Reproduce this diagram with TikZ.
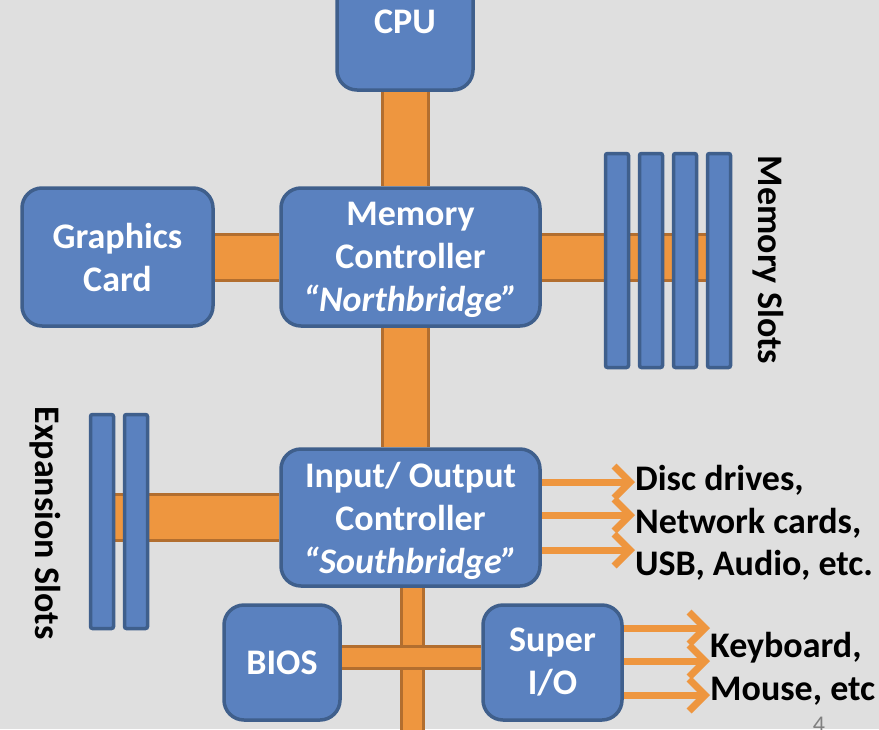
\documentclass[tikz,border=0pt]{standalone}
\usepackage{fontspec}
\setmainfont{Carlito}
\usetikzlibrary{arrows.meta,positioning}
\definecolor{bgcol}{HTML}{DFDFDF}
\definecolor{boxfill}{HTML}{5A81BF}
\definecolor{boxline}{HTML}{3F5F8C}
\definecolor{busfill}{HTML}{EE963F}
\definecolor{busline}{HTML}{B26E2F}
\pgfdeclarelayer{background}
\pgfsetlayers{background,main}

\begin{document}
\begin{tikzpicture}[x=1pt, y=-1pt,
  font=\bfseries\fontsize{36}{43}\selectfont,
  box/.style={draw=boxline, fill=boxfill, line width=3.5pt, rounded corners=20pt,
    text=white, align=center, inner sep=0pt},
  slot/.style={draw=boxline, fill=boxfill, line width=3.5pt, rounded corners=2pt,
    minimum width=23pt, minimum height=214pt, inner sep=0pt},
  bus/.style={draw=busline, line width=3pt, double=busfill, double distance=43pt},
  thinbus/.style={draw=busline, line width=3pt, double=busfill, double distance=19pt},
  arr/.style={draw=busfill, line width=7pt, -{Straight Barb[length=16pt, width=32pt]}},
  lbl/.style={font=\bfseries\fontsize{36}{42.5}\selectfont, align=left, inner sep=0pt}]
  \useasboundingbox (0,0) rectangle (879,729);
  % chips
  \node[box, minimum width=136pt, minimum height=136pt] (cpu) at (405,22) {CPU};
  \node[box, minimum width=259pt, minimum height=138pt, text depth=0pt] (north) at (410.5,257)
    {Memory\\Controller\\\itshape ``Northbridge''};
  \node[box, minimum width=191pt, minimum height=138pt] (gfx) at (117.5,257) {Graphics\\Card};
  \node[box, minimum width=259pt, minimum height=137pt, text depth=0pt] (south) at (410.5,517.5)
    {Input/ Output\\Controller\\\itshape ``Southbridge''};
  \node[box, minimum width=116pt, minimum height=115pt] (bios) at (282,662.5) {BIOS};
  \node[box, minimum width=139pt, minimum height=115pt] (sio) at (552.5,662.5) {Super\\I/O};
  % slots
  \foreach \i/\x in {1/617,2/651,3/685,4/719}
    \node[slot] (mem\i) at (\x,260.5) {};
  \foreach \i/\x in {1/102,2/136}
    \node[slot] (exp\i) at (\x,521.5) {};
  \coordinate (trunk) at (405.5,0);
  \coordinate (bottom) at (412,740);
  % background and buses
  \begin{pgfonlayer}{background}
    \fill[bgcol] (0,0) rectangle (879,729);
    \draw[bus] (cpu.south -| trunk) -- (north.north -| trunk);
    \draw[bus] (north.south -| trunk) -- (south.north -| trunk);
    \draw[bus] (gfx.east) -- (north.west);
    \draw[bus] (north.east) -- (mem4.center |- north.east);
    \draw[bus] (exp1.center |- south.west) -- (south.west);
    \draw[thinbus] (south.south -| bottom) -- (bottom);
    \draw[thinbus] (bios.east |- 0,657) -- (sio.west |- 0,657);
  \end{pgfonlayer}
  % labels
  \node[lbl, rotate=-90] (memlbl) at (768,260) {Memory Slots};
  \node[lbl, rotate=-90] (explbl) at (45,523) {Expansion Slots};
  \node[lbl, anchor=west] (periph) at (635,523) {Disc drives,\\Network cards,\\USB, Audio, etc.};
  \node[lbl, anchor=west] (keys) at (710,669) {Keyboard,\\Mouse, etc};
  \node[text=gray, font=\fontsize{24}{24}\selectfont, anchor=north, inner sep=0pt] (page) at (819,717) {4};
  % arrows
  \foreach \y in {482,515,550}
    \draw[arr] (south.east |- 0,\y) -- (periph.west |- 0,\y);
  \foreach \y in {628,661,695}
    \draw[arr] (sio.east |- 0,\y) -- (keys.west |- 0,\y);
\end{tikzpicture}
\end{document}
